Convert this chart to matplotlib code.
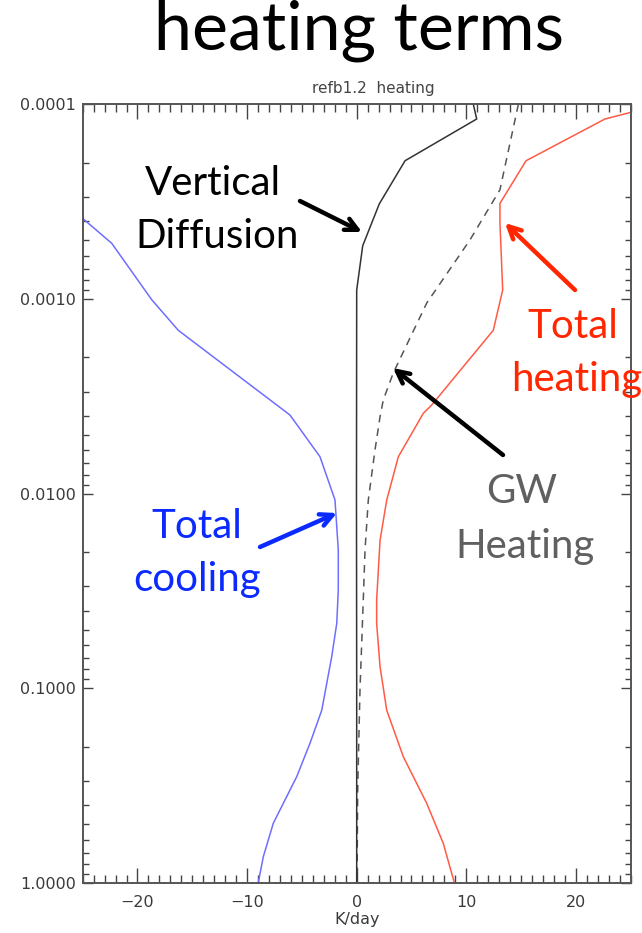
import matplotlib
matplotlib.use("Agg")
import matplotlib.pyplot as plt
from matplotlib.ticker import MultipleLocator, LogLocator, NullFormatter, FixedLocator

# pressure levels and heating rates (K/day) for each term
cool_p = [3.86e-4, 5.18e-4, 1.01e-3, 1.45e-3, 3.95e-3, 6.47e-3, 0.0108, 0.0195,
          0.0314, 0.0465, 0.069, 0.130, 0.192, 0.285, 0.495, 0.735, 1.0]
cool_k = [-25.0, -22.35, -18.7, -16.28, -6.09, -3.35, -1.98, -1.68,
          -1.68, -1.82, -2.28, -3.19, -4.26, -5.47, -7.61, -8.52, -8.98]

heat_p = [1.10e-4, 1.19e-4, 1.95e-4, 3.23e-4, 4.07e-4, 9.0e-4, 1.45e-3, 3.51e-3,
          3.87e-3, 6.47e-3, 0.0108, 0.0174, 0.0353, 0.0465, 0.0776, 0.130,
          0.225, 0.391, 0.628, 1.0]
heat_k = [25.0, 22.65, 15.45, 13.07, 13.07, 13.32, 12.46, 6.84,
          6.08, 3.80, 2.74, 2.13, 1.82, 1.82, 2.13, 2.74,
          4.25, 6.39, 7.90, 8.91]

gw_p = [1.0e-4, 2.75e-4, 4.98e-4, 1.05e-3, 2.40e-3, 3.30e-3, 4.03e-3, 5.97e-3,
        0.0108, 0.0195, 0.0353, 0.102, 0.334, 1.0]
gw_k = [14.75, 13.07, 10.33, 6.39, 3.34, 2.43, 2.13, 1.67,
        1.06, 0.76, 0.60, 0.30, 0.09, 0.03]

vd_p = [1.0e-4, 1.19e-4, 1.95e-4, 3.25e-4, 5.33e-4, 9.0e-4, 0.01, 0.1, 1.0]
vd_k = [10.64, 10.95, 4.41, 2.06, 0.55, 0.0, -0.02, 0.0, 0.0]

y_ticks = [1e-4, 1e-3, 1e-2, 1e-1, 1.0]
x_ticks = [-20, -10, 0, 10, 20]

W, H = 642, 933
fig = plt.figure(figsize=(W / 100, H / 100), dpi=100)
ax = fig.add_axes([0.1288, 0.0539, 0.8536, 0.8343])


def px(x, y):
    # pixel position from the top-left corner -> figure fraction
    return x / W, 1 - y / H


ax.plot(cool_k, cool_p, color="#6e6eff", lw=1.1)
ax.plot(heat_k, heat_p, color="#ff5a46", lw=1.1)
ax.plot(gw_k, gw_p, color="#555555", lw=1.1, ls=(0, (5, 4)))
ax.plot(vd_k, vd_p, color="#333333", lw=1.1)

ax.set_yscale("log")
ax.set_ylim(1.0, 1e-4)
ax.set_xlim(-25, 25)

ax.yaxis.set_major_locator(FixedLocator(y_ticks))
ax.set_yticklabels(["%.4f" % v for v in y_ticks])
ax.yaxis.set_minor_locator(LogLocator(base=10, subs=range(2, 10)))
ax.yaxis.set_minor_formatter(NullFormatter())
ax.xaxis.set_major_locator(FixedLocator(x_ticks))
ax.set_xticklabels(["\u2212%d" % -v if v < 0 else "%d" % v for v in x_ticks])
ax.xaxis.set_minor_locator(MultipleLocator(1))

ax.tick_params(axis="both", which="both", direction="in", top=True, right=True,
               color="#444444", width=1.0, labelcolor="#3a3a3a", labelsize=11.5)
ax.tick_params(axis="x", which="major", length=11, pad=9)
ax.tick_params(axis="x", which="minor", length=5.5)
ax.tick_params(axis="y", which="major", length=7.5, pad=5)
ax.tick_params(axis="y", which="minor", length=4.5)
for s in ax.spines.values():
    s.set_color("#555555")
    s.set_linewidth(1.4)

ax.set_xlabel("K/day", fontsize=11.5, color="#3a3a3a", labelpad=1)

fig.text(*px(359, 50), "heating terms", ha="center", va="baseline",
         fontsize=49, family="Lato", color="black")
fig.text(*px(373, 88), "refb1.2  heating", ha="center", va="center",
         fontsize=11, color="#444444")

# curve labels, one line at a time
big = dict(fontsize=29, family="Lato", va="baseline")
labels = [
    ("Vertical", 213, 195, "center", "black"),
    ("Diffusion", 217, 248, "center", "black"),
    ("Total", 573, 338, "center", "#ff2600"),
    ("heating", 511, 391, "left", "#ff2600"),
    ("GW", 522, 503, "center", "#606060"),
    ("Heating", 525, 558, "center", "#606060"),
    ("Total", 197, 538, "center", "#0a2aff"),
    ("cooling", 197, 591, "center", "#0a2aff"),
]
for s, x, y, ha, c in labels:
    fig.text(*px(x, y), s, ha=ha, color=c, **big)

# arrows from the labels to the curves
arrows = [
    ((300, 201), (362, 232), "black"),
    ((575, 290), (505, 223), "#ff2600"),
    ((503, 455), (393, 368), "black"),
    ((260, 547), (337, 513), "#0a2aff"),
]
for tail, head, c in arrows:
    ax.annotate("", xy=px(*head), xytext=px(*tail),
                xycoords="figure fraction", textcoords="figure fraction",
                arrowprops=dict(arrowstyle="->", lw=3.2, color=c,
                                mutation_scale=22, shrinkA=0, shrinkB=0))

fig.savefig("out.png", dpi=100)
